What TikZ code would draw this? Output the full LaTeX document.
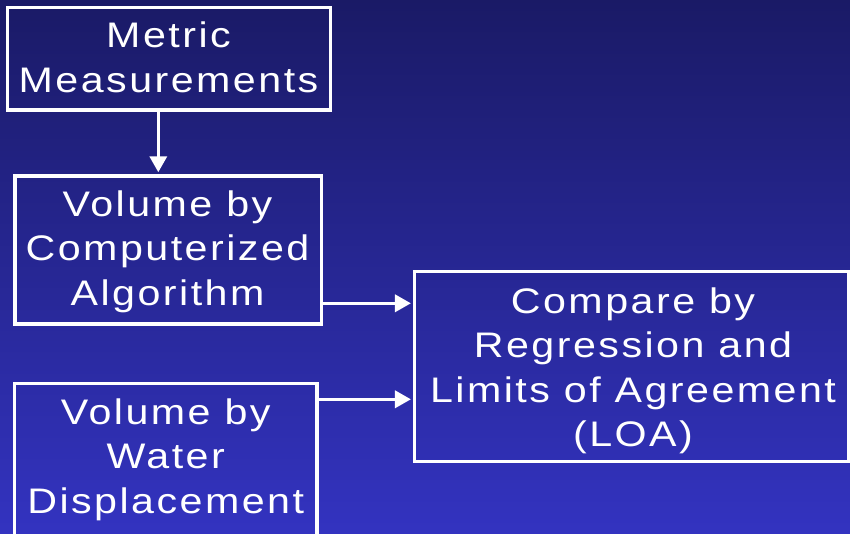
\documentclass[tikz,border=0pt]{standalone}
\usepackage{fontspec}
\setmainfont{Liberation Sans}[LetterSpace=7,FakeStretch=1.16]
\usetikzlibrary{arrows.meta}
\definecolor{bgtop}{HTML}{1A1A66}
\definecolor{bgbot}{HTML}{3333C0}
\tikzset{
  box/.style={draw=white, line width=3.5pt, inner sep=0pt, rectangle},
  txt/.style={text=white, align=center, inner sep=0pt,
    font=\fontsize{35.5pt}{44.5pt}\selectfont},
  arr/.style={draw=white, line width=3.5pt,
    -{Triangle[length=16pt,width=17pt]}, shorten >=2pt}
}
\begin{document}
\begin{tikzpicture}[x=1pt,y=-1pt]
\shade[top color=bgtop, bottom color=bgbot] (0,0) rectangle (850,533);
\useasboundingbox (0,0) rectangle (850,533);
\begin{scope}
\clip (0,0) rectangle (850,533);
\node[box, minimum width=323pt, minimum height=102.5pt] (b1) at (169,58.75) {};
\node[box, minimum width=306.3pt, minimum height=148pt] (b2) at (168.2,250) {};
\node[box, minimum width=302.3pt, minimum height=164.3pt] (b3) at (165.85,465.85) {};
\node[box, minimum width=434pt, minimum height=190pt] (b4) at (631.7,366.3) {};
\end{scope}
\node[txt] (t1) at (168.5,57.3) {Metric\\Measurements};
\node[txt] (t2) at (167.5,251.7) {Volume by\\Computerized\\Algorithm};
\node[txt] (t3) at (165.7,459.8) {Volume by\\Water\\Displacement};
\node[txt] (t4) at (633,370.6) {Compare by\\Regression and\\Limits of Agreement\\(LOA)};
\coordinate (ya) at (0,303.3);
\coordinate (yb) at (0,399.3);
\coordinate (xd) at (158.3,0);
\draw[arr] (b1.south -| xd) -- (b2.north -| xd);
\draw[arr] (b2.east |- ya) -- (b4.west |- ya);
\draw[arr] (b3.east |- yb) -- (b4.west |- yb);
\end{tikzpicture}
\end{document}
